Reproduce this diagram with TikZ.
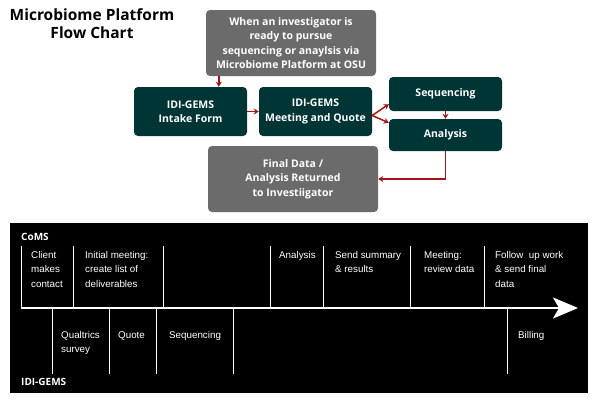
\documentclass[tikz,border=0pt]{standalone}
\usepackage{fontspec}
\setmainfont{Open Sans}
\newfontfamily\arialfont{Liberation Sans}
\usetikzlibrary{arrows.meta}
\definecolor{gemsteal}{HTML}{003535}
\definecolor{boxgray}{HTML}{6B6B6B}
\definecolor{flowred}{HTML}{A31515}

\tikzset{
    tealbox/.style={fill=gemsteal, rounded corners=4pt, text=white, align=center, inner sep=0pt,
        font=\bfseries\fontsize{10.5}{14.5}\selectfont},
    graybox/.style={tealbox, fill=boxgray},
    flow/.style={flowred, line width=1.5pt, -{Stealth[length=5pt,width=6pt]}},
    tick/.style={white, line width=0.8pt},
    stage/.style={text=white, align=left, anchor=north west, inner sep=0pt,
        font=\arialfont\fontsize{9.8}{14.5}\selectfont},
    lane/.style={text=white, anchor=west, inner sep=0pt, font=\bfseries\fontsize{10}{12}\selectfont},
}

\begin{document}
\begin{tikzpicture}[x=1pt,y=-1pt]
    \useasboundingbox (0,0) rectangle (600,400);
    \def\bw{113}
    \def\gw{170}
    % title
    \node[align=center, font=\bfseries\fontsize{15.5}{18}\selectfont] (title) at (92,24) {Microbiome Platform\\Flow Chart};
    % flow chart
    \node[graybox, minimum width=\gw pt, minimum height=66pt] (start) at (291,43)
        {When an investigator is\\ready to pursue\\sequencing or anaylsis via\\Microbiome Platform at OSU};
    \node[tealbox, minimum width=\bw pt, minimum height=49pt] (intake) at (190.5,111.5) {IDI-GEMS\\Intake Form};
    \node[tealbox, minimum width=\bw pt, minimum height=49pt] (meeting) at (315.5,111.5) {IDI-GEMS\\Meeting and Quote};
    \node[tealbox, minimum width=\bw pt, minimum height=34pt] (seq) at (445.5,94) {Sequencing};
    \node[tealbox, minimum width=\bw pt, minimum height=32pt] (analysis) at (445.5,135) {Analysis};
    \node[graybox, minimum width=\gw pt, minimum height=66pt] (final) at (293,179)
        {Final Data /\\Analysis Returned\\to Investiigator};
    \draw[flow] ([xshift=13pt]start.south west) -- ([xshift=13pt]start.south west |- intake.north);
    \draw[flow] (intake.east) -- (meeting.west);
    \draw[flow] ([yshift=-4pt]meeting.east) -- ([yshift=7pt]seq.south west);
    \draw[flow] ([yshift=-4pt]meeting.east) -- ([yshift=-4pt]analysis.north west);
    \draw[flow] (seq.south) -- (analysis.north);
    \draw[flow] (analysis.south) |- (final.east);
    % timeline
    \fill[black] (10,223) rectangle (588,393);
    \node[lane] (coms) at (21,237) {CoMS};
    \node[lane] (gems) at (21,382) {IDI-GEMS};
    \coordinate (t0) at (21,308);
    \coordinate (t1) at (578,308);
    \draw[white, line width=2pt, -{Stealth[length=25pt,width=21pt,inset=6pt]}] (t0) -- (t1);
    \foreach \x in {21,73,163,270,323,410,484}
        \draw[tick] (\x,246) -- (\x,308);
    \foreach \x in {52,109,156,233,507}
        \draw[tick] (\x,308) -- (\x,374);
    \foreach \x/\t [count=\i] in {31/{Client\\makes\\contact}, 85/{Initial meeting:\\create list of\\deliverables},
            279/{Analysis}, 335/{Send summary\\\& results}, 424/{Meeting:\\review data},
            495/{Follow\ \ up work\\\& send final\\data}}
        \node[stage] (up\i) at (\x,251) {\t};
    \foreach \x/\t [count=\i] in {61/{Qualtrics\\survey}, 118/{Quote}, 169/{Sequencing}, 518/{Billing}}
        \node[stage] (down\i) at (\x,331) {\t};
\end{tikzpicture}
\end{document}
